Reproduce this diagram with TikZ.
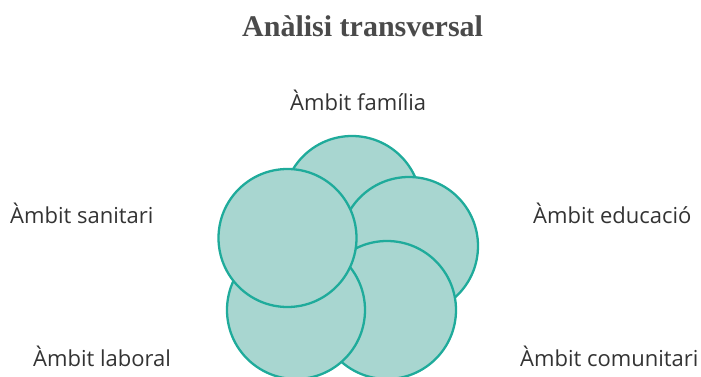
\documentclass[tikz,border=0pt]{standalone}
\usepackage{fontspec}
\setmainfont{Open Sans}
\newfontfamily\titlefont{Liberation Serif}
\definecolor{txt}{HTML}{333333}
\definecolor{ttl}{HTML}{4A4A4A}
\definecolor{ringfill}{HTML}{A8D6D0}
\definecolor{ringline}{HTML}{1FAB9B}
\begin{document}
\begin{tikzpicture}[x=1pt,y=-1pt,
  ring/.style={circle,draw=ringline,fill=ringfill,line width=2.3pt,minimum size=138pt,inner sep=0pt},
  lbl/.style={anchor=base west,text=txt,font=\fontsize{22}{26}\selectfont,inner sep=0pt}]
\useasboundingbox (0,0) rectangle (701,377);
\node[anchor=base west,text=ttl,font=\titlefont\bfseries\fontsize{30}{35}\selectfont,inner sep=0pt] (title) at (242,37) {Anàlisi transversal};
\node[ring] (familia) at (352,205) {};
\node[ring] (educacio) at (409,246) {};
\node[ring] (comunitari) at (387,310) {};
\node[ring] (laboral) at (296,310) {};
\node[ring] (sanitari) at (287.5,238) {};
\node[lbl] (lfam) at (290,111) {Àmbit família};
\node[lbl] (lsan) at (10,223) {Àmbit sanitari};
\node[lbl] (ledu) at (533,223) {Àmbit educació};
\node[lbl] (llab) at (33,366) {Àmbit laboral};
\node[lbl] (lcom) at (520,366) {Àmbit comunitari};
\end{tikzpicture}
\end{document}
